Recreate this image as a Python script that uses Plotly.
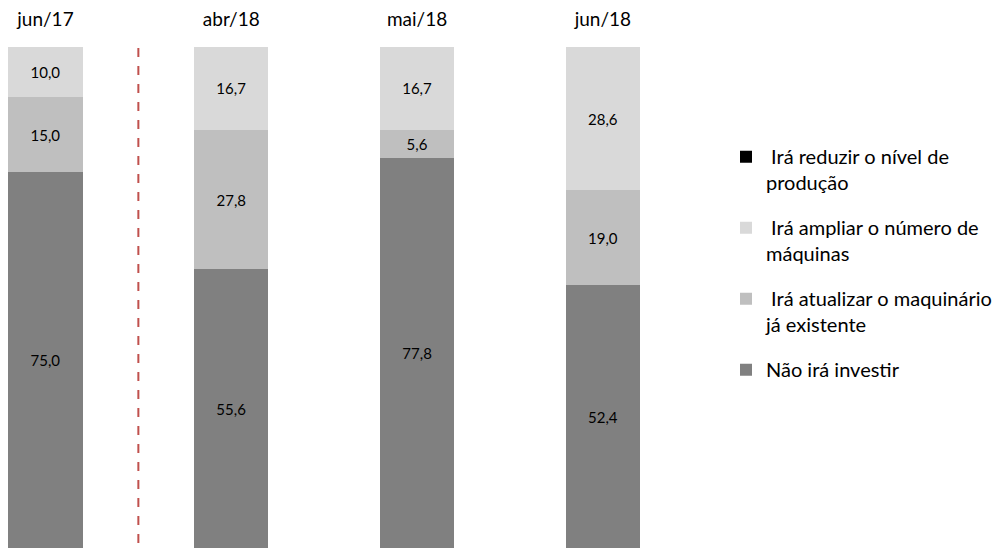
import plotly.graph_objects as go

# Survey periods and answer shares (%)
periods = ["jun/17", "abr/18", "mai/18", "jun/18"]
nao_investir = [75.0, 55.6, 77.8, 52.4]
atualizar = [15.0, 27.8, 5.6, 19.0]
ampliar = [10.0, 16.7, 16.7, 28.6]
reduzir = [0.0, 0.0, 0.0, 0.0]

# (legend label, values, colour, legend rank) - stacked bottom to top
series = [
    ("Não irá investir", nao_investir, "#808080", 4),
    (" Irá atualizar o maquinário<br>já existente", atualizar, "#BFBFBF", 3),
    (" Irá ampliar o número de<br>máquinas", ampliar, "#D9D9D9", 2),
    (" Irá reduzir o nível de<br>produção", reduzir, "#000000", 1),
]

FONT = "Lato, 'Open Sans', sans-serif"

fig = go.Figure()
for i, (name, vals, color, rank) in enumerate(series):
    show_text = any(v > 0 for v in vals)
    fig.add_trace(go.Bar(
        x=periods,
        y=vals,
        name=name,
        legendgroup=str(i),
        legendrank=rank,
        marker=dict(color=color, line=dict(width=0)),
        width=0.4,
        text=[f"{v:.1f}".replace(".", ",") for v in vals] if show_text else None,
        textposition="inside" if show_text else "none",
        insidetextanchor="middle",
        textangle=0,
        constraintext="none",
        textfont=dict(family=FONT, size=15, color="#000000"),
        hoverinfo="skip",
    ))

# Dashed separator between the 2017 reference and the 2018 months
fig.add_shape(
    type="line", xref="x", yref="y",
    x0=0.5, x1=0.5, y0=1.0, y1=100.6,
    line=dict(color="#C0504D", width=2, dash="dash"),
)

fig.update_layout(
    width=998, height=548,
    margin=dict(l=0, r=0, t=47, b=0),
    paper_bgcolor="white", plot_bgcolor="white",
    barmode="stack",
    font=dict(family=FONT, color="#000000"),
    xaxis=dict(
        type="category",
        side="top",
        range=[-0.2446, 5.121],
        showgrid=False, zeroline=False, showline=False,
        ticks="", ticklabelstandoff=16,
        tickfont=dict(family=FONT, size=19, color="#000000"),
    ),
    yaxis=dict(
        range=[0, 100],
        visible=False,
    ),
    showlegend=True,
    legend=dict(
        traceorder="grouped",
        tracegroupgap=16,
        valign="top",
        x=0.728, xanchor="left",
        y=0.82, yanchor="top",
        font=dict(family=FONT, size=20, color="#000000"),
        bgcolor="rgba(0,0,0,0)",
    ),
)

fig.write_html("out.html")
